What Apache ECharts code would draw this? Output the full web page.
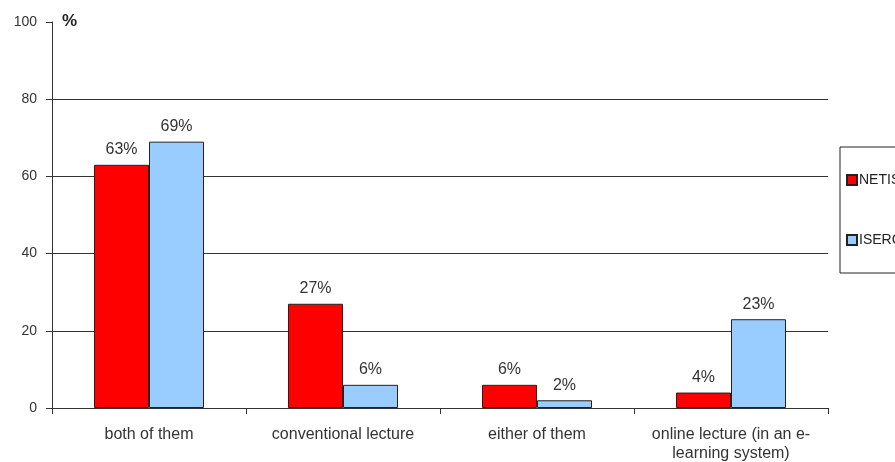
<!DOCTYPE html>
<html><head><meta charset="utf-8">
<script src="https://cdn.jsdelivr.net/npm/echarts@6/dist/echarts.min.js"></script>
<style>html,body{margin:0;padding:0;background:#fff}#c{width:895px;height:462px}</style>
</head><body><div id="c"></div>
<script>
const categories = ['both of them', 'conventional lecture', 'either of them', 'online lecture (in an e-\nlearning system)'];
const netis = [63, 27, 6, 4];
const iserc = [69, 6, 2, 23];
const yTicks = [0, 20, 40, 60, 80, 100];

const chart = echarts.init(document.getElementById('c'));
const font = 'Liberation Sans, Arial, sans-serif';
const lbl = {show: true, position: 'top', formatter: '{c}%', color: '#333', fontSize: 16, fontFamily: font, distance: 7};
chart.setOption({
  animation: false,
  grid: {left: 52, right: 67, top: 22, bottom: 54, containLabel: false, outerBoundsMode: 'none'},
  legend: {
    orient: 'vertical', left: 840, top: 147, width: 70, height: 128,
    itemGap: 46, padding: [26, 6, 26, 6],
    borderColor: '#222', borderWidth: 1,
    itemWidth: 10, itemHeight: 10, icon: 'rect',
    textStyle: {color: '#222', fontSize: 14, fontFamily: font, padding: [0, 0, 0, -3]},
    data: ['NETIS', 'ISERC']
  },
  xAxis: {
    type: 'category', data: categories,
    axisLine: {lineStyle: {color: '#333', width: 1}},
    axisTick: {show: true, interval: 0, length: 6, lineStyle: {color: '#333'}},
    axisLabel: {interval: 0, hideOverlap: false, color: '#333', fontSize: 16, fontFamily: font, margin: 17, lineHeight: 19}
  },
  yAxis: {
    type: 'value', min: 0, max: 100, interval: 20,
    name: '%', nameLocation: 'end', nameGap: -2,
    nameTextStyle: {color: '#222', fontSize: 17, fontWeight: 'bold', fontFamily: font, align: 'left', padding: [0, 0, -6, 10]},
    axisLine: {show: true, lineStyle: {color: '#333'}},
    axisTick: {show: true, length: 6, lineStyle: {color: '#333'}},
    axisLabel: {color: '#333', fontSize: 14, fontFamily: font, margin: 15,
      formatter: v => yTicks.includes(v) ? String(v) : ''},
    splitLine: {show: true, lineStyle: {color: ['#333', '#333', '#333', '#333', '#333', 'transparent'], width: 1}}
  },
  series: [
    {name: 'NETIS', type: 'bar', data: netis, barWidth: 55, barGap: '0%',
      itemStyle: {color: '#FF0000', borderColor: '#222', borderWidth: 1}, label: lbl},
    {name: 'ISERC', type: 'bar', data: iserc, barWidth: 55,
      itemStyle: {color: '#99CCFF', borderColor: '#222', borderWidth: 1}, label: lbl}
  ]
});
</script></body></html>
